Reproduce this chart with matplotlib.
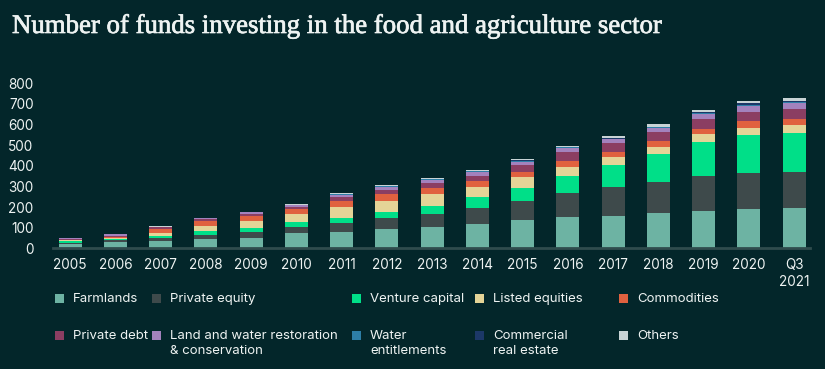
import matplotlib
matplotlib.use("Agg")
import matplotlib.pyplot as plt
import matplotlib.patches as patches
import matplotlib.patheffects as pe
import numpy as np

BG = "#03262a"
TEXT = "#eef3f2"
AXIS = "#2f4c4d"

years = ["2005", "2006", "2007", "2008", "2009", "2010", "2011", "2012", "2013",
         "2014", "2015", "2016", "2017", "2018", "2019", "2020", "Q3\n2021"]

farmlands = [22, 29, 35, 45, 52, 73, 81, 95, 102, 118, 137, 153, 158, 170, 183, 190, 194]
private_equity = [5, 11, 14, 20, 29, 29, 40, 51, 65, 76, 94, 114, 138, 153, 168, 177, 178]
venture_capital = [7, 5, 11, 17, 19, 24, 25, 32, 40, 54, 63, 85, 108, 135, 164, 180, 186]
listed_equities = [4, 4, 16, 28, 33, 41, 53, 52, 55, 51, 51, 41, 38, 35, 38, 35, 40]
commodities = [4, 4, 18, 21, 25, 22, 31, 34, 32, 29, 27, 32, 27, 29, 26, 33, 28]
private_debt = [4, 8, 8, 10, 8, 13, 18, 19, 22, 24, 32, 44, 41, 44, 47, 48, 50]
land_water = [3, 7, 3, 6, 9, 8, 11, 16, 16, 20, 16, 16, 19, 19, 24, 28, 28]
water_ent = [0, 0, 0, 0, 1, 1, 2, 2, 3, 3, 4, 4, 3, 3, 5, 6, 6]
commercial_re = [0, 0, 0, 0, 0, 0, 0, 1, 1, 1, 2, 4, 2, 2, 5, 7, 6]
others = [0, 1, 3, 2, 2, 3, 6, 5, 7, 4, 6, 5, 10, 12, 11, 10, 11]

series = [
    ("Farmlands", farmlands, "#6db3a3"),
    ("Private equity", private_equity, "#3e4a4b"),
    ("Venture capital", venture_capital, "#00df88"),
    ("Listed equities", listed_equities, "#e4d497"),
    ("Commodities", commodities, "#e0613f"),
    ("Private debt", private_debt, "#8b3e62"),
    ("Land and water restoration\n& conservation", land_water, "#a382bd"),
    ("Water\nentitlements", water_ent, "#2d7ea6"),
    ("Commercial\nreal estate", commercial_re, "#1c3868"),
    ("Others", others, "#c8d3d5"),
]

fig = plt.figure(figsize=(8.25, 3.69), dpi=100, facecolor=BG)
ax = fig.add_axes([53 / 825, 1 - 248.3 / 369, (810 - 53) / 825, 165 / 369])
ax.set_facecolor(BG)

x = np.arange(len(years))
bottom = np.zeros(len(years))
for name, vals, color in series:
    ax.bar(x, vals, width=0.51, bottom=bottom, color=color, linewidth=0)
    bottom += np.array(vals)

ax.set_xlim(-0.38, len(years) - 1 + 0.35)
ax.set_ylim(0, 800)
ax.set_yticks(range(0, 801, 100))
ax.set_xticks(x)
ax.set_xticklabels(years)
for spine in ["top", "right", "left"]:
    ax.spines[spine].set_visible(False)
ax.spines["bottom"].set_color(AXIS)
ax.spines["bottom"].set_linewidth(2)
ax.tick_params(axis="both", length=0, colors=TEXT, labelsize=9.8)
ax.tick_params(axis="y", pad=14)
ax.tick_params(axis="x", pad=7)
for lbl in ax.get_xticklabels() + ax.get_yticklabels():
    lbl.set_fontfamily("Inter")
for lbl in ax.get_xticklabels():
    lbl.set_verticalalignment("top")
    lbl.set_linespacing(1.25)

fig.text(12 / 825, 1 - 33 / 369, "Number of funds investing in the food and agriculture sector",
         color=TEXT, fontsize=19.3, family="Liberation Serif", va="baseline", ha="left",
         path_effects=[pe.withStroke(linewidth=0.5, foreground=TEXT)])

# legend drawn by hand: 2 rows x 5 columns
col_x = [55, 152, 352, 475, 619]
row_y = [298, 335]
for i, (name, vals, color) in enumerate(series):
    r, c = divmod(i, 5)
    sx, sy = col_x[c], row_y[r]
    fig.patches.append(patches.Rectangle(
        (sx / 825, 1 - (sy + 4.5) / 369), 9 / 825, 9 / 369,
        transform=fig.transFigure, facecolor=color, edgecolor="none"))
    fig.text((sx + 18) / 825, 1 - (sy - 5) / 369, name, color=TEXT, fontsize=9.5,
             family="Inter", va="top", ha="left", linespacing=1.3)

fig.savefig("out.png", dpi=100, facecolor=BG)
